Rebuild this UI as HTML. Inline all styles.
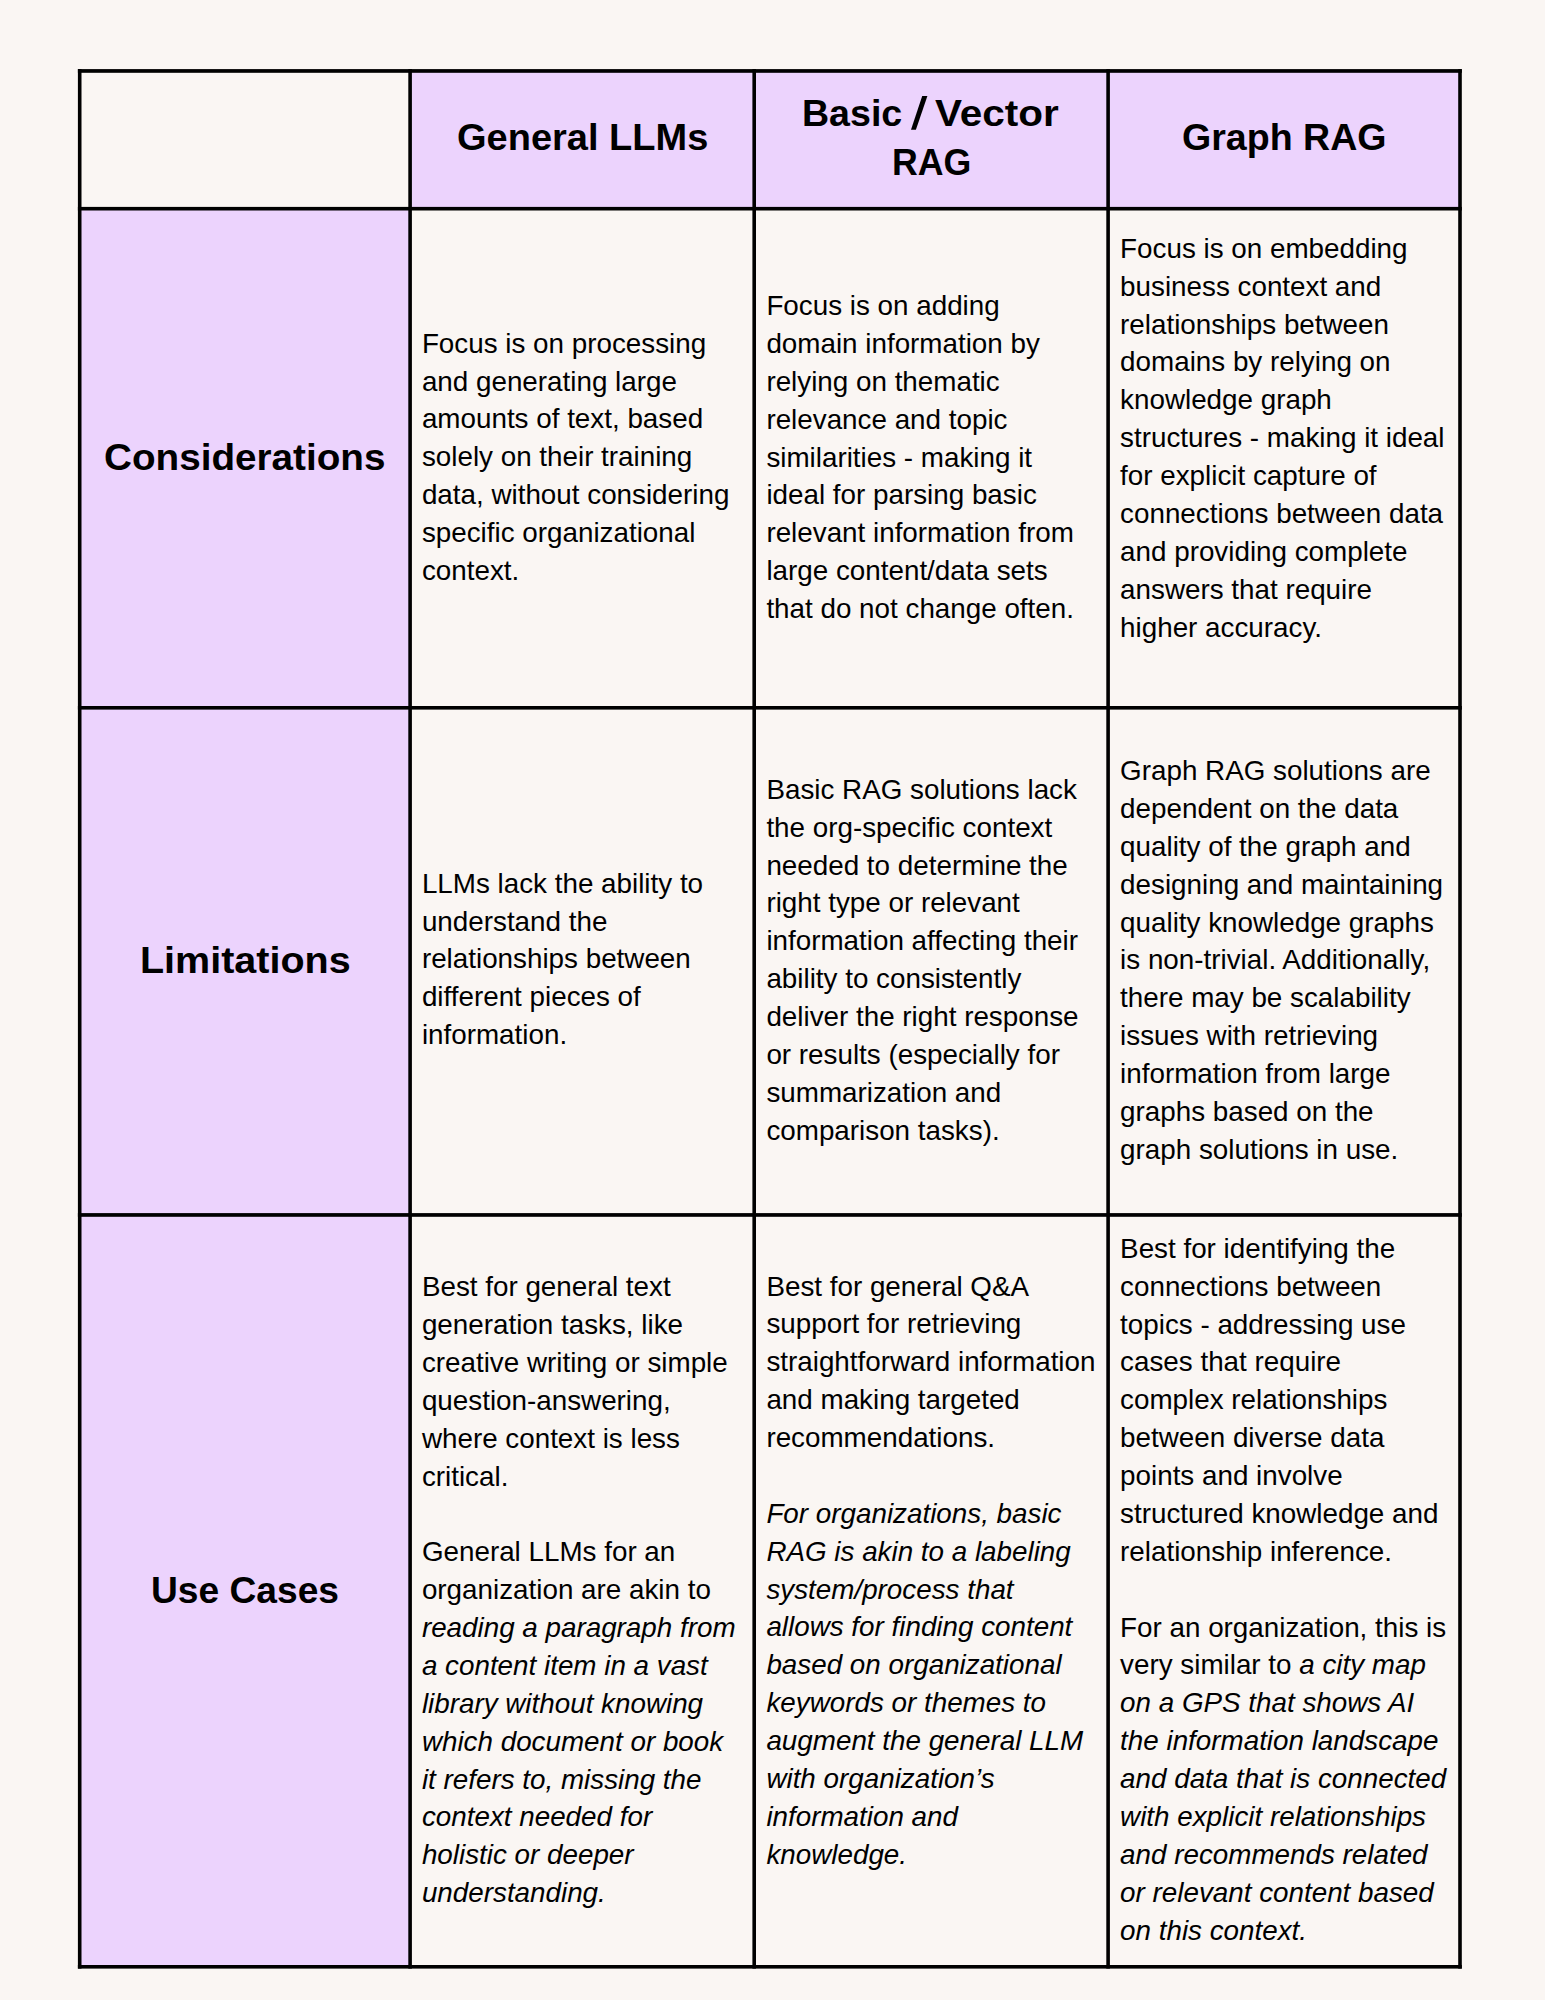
<!DOCTYPE html>
<html>
<head>
<meta charset="utf-8">
<style>
html,body{margin:0;padding:0;}
body{width:1545px;height:2000px;background:#FAF6F3;position:relative;overflow:hidden;font-family:"Liberation Sans",sans-serif;color:#000;}
.p{position:absolute;background:#ECD3FD;}
svg{position:absolute;left:0;top:0;}
.h{position:absolute;font-weight:bold;font-size:36.5px;line-height:36.5px;white-space:nowrap;transform-origin:0 0;}
.t{position:absolute;font-size:27.8px;line-height:37.88px;white-space:nowrap;}
.t i{font-style:italic;}
</style>
</head>
<body>
<div class="p" style="left:410px;top:71px;width:1050px;height:138px"></div>
<div class="p" style="left:79px;top:209px;width:331px;height:1758px"></div>

<svg width="1545" height="2000" viewBox="0 0 1545 2000">
<g fill="#000">
<rect x="77.9" y="69.1" width="3.6" height="1899.5"/>
<rect x="408.3" y="69.1" width="3.6" height="1899.5"/>
<rect x="752.4" y="69.1" width="3.6" height="1899.5"/>
<rect x="1106.3" y="69.1" width="3.6" height="1899.5"/>
<rect x="1458.2" y="69.1" width="3.6" height="1899.5"/>
<rect x="77.9" y="69.1" width="1383.9" height="3.7"/>
<rect x="77.9" y="206.9" width="1383.9" height="3.6"/>
<rect x="77.9" y="706" width="1383.9" height="3.6"/>
<rect x="77.9" y="1213.1" width="1383.9" height="3.7"/>
<rect x="77.9" y="1965" width="1383.9" height="3.6"/>
<polygon points="922.2,96 927.4,96 915.9,129.8 911,129.8"/>
</g>
</svg>


<div class="h" style="left:456.57px;top:120.10px;transform:scaleX(1.0411)">General LLMs</div>
<div class="h" style="left:802.46px;top:95.70px;transform:scaleX(1.029)">Basic</div>
<div class="h" style="left:935.38px;top:95.70px;transform:scaleX(1.109)">Vector</div>
<div class="h" style="left:891.78px;top:144.70px;transform:scaleX(0.9786)">RAG</div>
<div class="h" style="left:1181.88px;top:119.80px;transform:scaleX(1.0294)">Graph RAG</div>
<div class="h" style="left:104.34px;top:440.20px;transform:scaleX(1.0591)">Considerations</div>
<div class="h" style="left:140.03px;top:943.20px;transform:scaleX(1.0818)">Limitations</div>
<div class="h" style="left:151.29px;top:1573.10px;transform:scaleX(1.0182)">Use Cases</div>

<div class="t" style="left:421.9px;top:324.66px">Focus is on processing<br>and generating large<br>amounts of text, based<br>solely on their training<br>data, without considering<br>specific organizational<br>context.</div>
<div class="t" style="left:766.4px;top:287.1px">Focus is on adding<br>domain information by<br>relying on thematic<br>relevance and topic<br>similarities - making it<br>ideal for parsing basic<br>relevant information from<br>large content/data sets<br>that do not change often.</div>
<div class="t" style="left:1120.1px;top:229.86px">Focus is on embedding<br>business context and<br>relationships between<br>domains by relying on<br>knowledge graph<br>structures - making it ideal<br>for explicit capture of<br>connections between data<br>and providing complete<br>answers that require<br>higher accuracy.</div>

<div class="t" style="left:421.9px;top:864.66px">LLMs lack the ability to<br>understand the<br>relationships between<br>different pieces of<br>information.</div>
<div class="t" style="left:766.4px;top:770.76px">Basic RAG solutions lack<br>the org-specific context<br>needed to determine the<br>right type or relevant<br>information affecting their<br>ability to consistently<br>deliver the right response<br>or results (especially for<br>summarization and<br>comparison tasks).</div>
<div class="t" style="left:1120.1px;top:752px">Graph RAG solutions are<br>dependent on the data<br>quality of the graph and<br>designing and maintaining<br>quality knowledge graphs<br>is non-trivial. Additionally,<br>there may be scalability<br>issues with retrieving<br>information from large<br>graphs based on the<br>graph solutions in use.</div>

<div class="t" style="left:421.9px;top:1268.2px">Best for general text<br>generation tasks, like<br>creative writing or simple<br>question-answering,<br>where context is less<br>critical.<br><br>General LLMs for an<br>organization are akin to<br><i>reading a paragraph from<br>a content item in a vast<br>library without knowing<br>which document or book<br>it refers to, missing the<br>context needed for<br>holistic or deeper<br>understanding.</i></div>
<div class="t" style="left:766.4px;top:1267.56px">Best for general Q&amp;A<br>support for retrieving<br>straightforward information<br>and making targeted<br>recommendations.<br><br><i>For organizations, basic<br>RAG is akin to a labeling<br>system/process that<br>allows for finding content<br>based on organizational<br>keywords or themes to<br>augment the general LLM<br>with organization&#8217;s<br>information and<br>knowledge.</i></div>
<div class="t" style="left:1120.1px;top:1229.8px">Best for identifying the<br>connections between<br>topics - addressing use<br>cases that require<br>complex relationships<br>between diverse data<br>points and involve<br>structured knowledge and<br>relationship inference.<br><br>For an organization, this is<br>very similar to <i>a city map<br>on a GPS that shows AI<br>the information landscape<br>and data that is connected<br>with explicit relationships<br>and recommends related<br>or relevant content based<br>on this context.</i></div>
</body>
</html>
